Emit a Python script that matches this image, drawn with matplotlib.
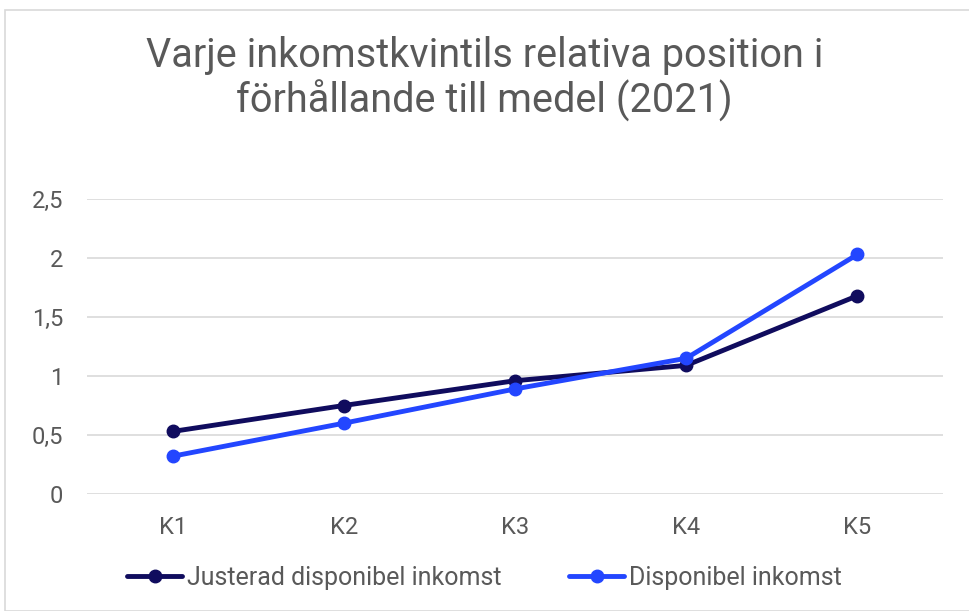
import matplotlib.pyplot as plt
from matplotlib.patches import Rectangle

# Data
CATEGORIES = ["K1", "K2", "K3", "K4", "K5"]
JUSTERAD = [0.53, 0.75, 0.96, 1.09, 1.68]
DISPONIBEL = [0.32, 0.60, 0.89, 1.15, 2.03]
Y_TICKS = [0, 0.5, 1, 1.5, 2, 2.5]
Y_TICK_LABELS = ["0", "0,5", "1", "1,5", "2", "2,5"]
TITLE = "Varje inkomstkvintils relativa position i\nförhållande till medel (2021)"

NAVY = "#100C5E"
BLUE = "#2346FF"
TEXT_GREY = "#595959"

plt.rcParams["font.family"] = ["Roboto", "DejaVu Sans"]

fig = plt.figure(figsize=(9.69, 6.11), dpi=100)
ax = fig.add_axes([87 / 969, 1 - 494 / 611, (943 - 87) / 969, (494 - 199) / 611])

# Outer chart border (partially visible)
fig.patches.append(Rectangle((5 / 969, 0), 1.0, 1 - 10 / 611, transform=fig.transFigure,
                             fill=False, edgecolor="#D9D9D9", linewidth=1.2))

x = [i + 0.5 for i in range(len(CATEGORIES))]
ax.plot(x, JUSTERAD, color=NAVY, linewidth=3.5, marker="o", markersize=9,
        label="Justerad disponibel inkomst", solid_capstyle="round")
ax.plot(x, DISPONIBEL, color=BLUE, linewidth=3.5, marker="o", markersize=9,
        label="Disponibel inkomst", solid_capstyle="round")

ax.set_xlim(0, len(CATEGORIES))
ax.set_ylim(0, 2.5)
ax.set_xticks(x)
ax.set_xticklabels(CATEGORIES)
ax.set_yticks(Y_TICKS)
ax.set_yticklabels(Y_TICK_LABELS)
ax.tick_params(length=0, labelsize=17, labelcolor=TEXT_GREY)
ax.tick_params(axis="x", pad=16)
ax.tick_params(axis="y", pad=17)

ax.grid(axis="y", color="#D9D9D9", linewidth=1.2)
ax.set_axisbelow(True)
for s in ax.spines.values():
    s.set_visible(False)

fig.text(0.5, 1 - 79 / 611, TITLE, ha="center", va="center", fontsize=28.5,
         color=TEXT_GREY, linespacing=1.15)

fig.legend(loc="center", bbox_to_anchor=(0.5, 1 - 578 / 611), ncol=2, frameon=False,
           fontsize=18, labelcolor=TEXT_GREY, handlelength=2.2, handletextpad=0.2,
           columnspacing=2.7)

fig.savefig("out.png", dpi=100)
